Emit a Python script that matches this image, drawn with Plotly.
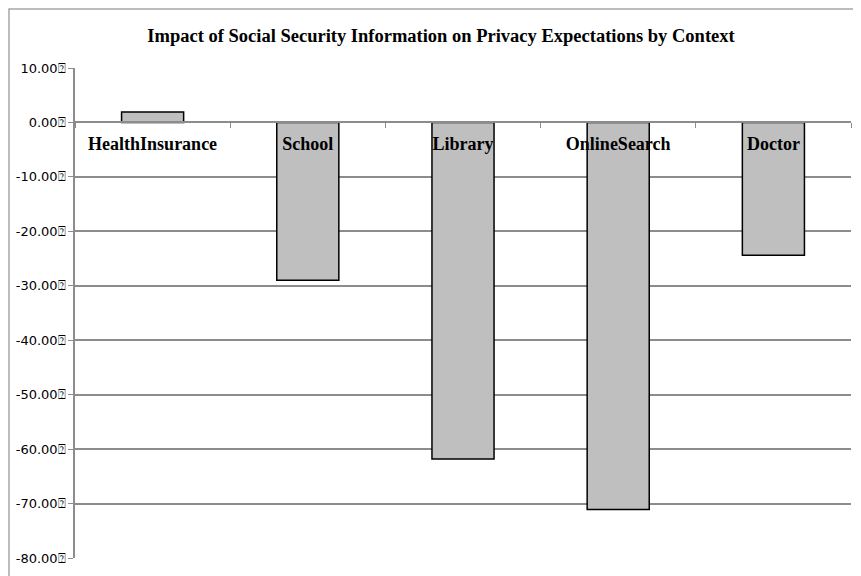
import plotly.graph_objects as go

# data
contexts = ["HealthInsurance", "School", "Library", "OnlineSearch", "Doctor"]
impact = [1.9, -29.0, -61.8, -71.1, -24.4]
y_ticks = [10, 0, -10, -20, -30, -40, -50, -60, -70, -80]
y_tick_labels = [f"{v:.2f}\u2370" for v in y_ticks]

fig = go.Figure()

fig.add_trace(
    go.Bar(
        x=contexts,
        y=impact,
        width=0.4,
        marker=dict(color="#bfbfbf", line=dict(color="#000000", width=1.5)),
    )
)

# outer frame of the embedded chart (open towards right and bottom)
fig.add_shape(
    type="rect", xref="paper", yref="paper",
    x0=(1 - 67) / 776, x1=1.05, y0=-0.06, y1=1 + 59 / 490,
    line=dict(color="#a6a6a6", width=1.5), fillcolor="rgba(0,0,0,0)",
    layer="below",
)

# the page body adds 8px, so the figure is 8px smaller than the window
fig.update_layout(
    width=853,
    height=568,
    margin=dict(l=67, r=10, t=60, b=18, autoexpand=False),
    paper_bgcolor="white",
    plot_bgcolor="white",
    showlegend=False,
    title=dict(
        text="<b>Impact of Social Security Information on Privacy Expectations by Context</b>",
        x=(433 - 67) / 776, xref="paper", xanchor="center",
        y=1 - 28 / 568, yref="container", yanchor="middle",
        font=dict(family="Liberation Serif", size=18.5, color="black"),
    ),
    xaxis=dict(
        anchor="free",
        position=80 / 90,
        automargin=False,
        showline=True,
        linecolor="#8c8c8c",
        linewidth=1.5,
        ticks="outside",
        tickson="boundaries",
        ticklen=5,
        tickcolor="#8c8c8c",
        showgrid=False,
        tickfont=dict(family="Liberation Serif", size=18, color="black", weight="bold"),
        ticklabelstandoff=5,
    ),
    yaxis=dict(
        range=[-80, 10],
        automargin=False,
        tickvals=y_ticks,
        ticktext=y_tick_labels,
        showline=True,
        linecolor="#8c8c8c",
        linewidth=1.5,
        ticks="outside",
        ticklen=5,
        tickcolor="#8c8c8c",
        showgrid=True,
        gridcolor="#8c8c8c",
        gridwidth=1.5,
        zeroline=False,
        tickfont=dict(family="DejaVu Sans", size=13, color="black"),
    ),
)

fig.write_html("out.html")
